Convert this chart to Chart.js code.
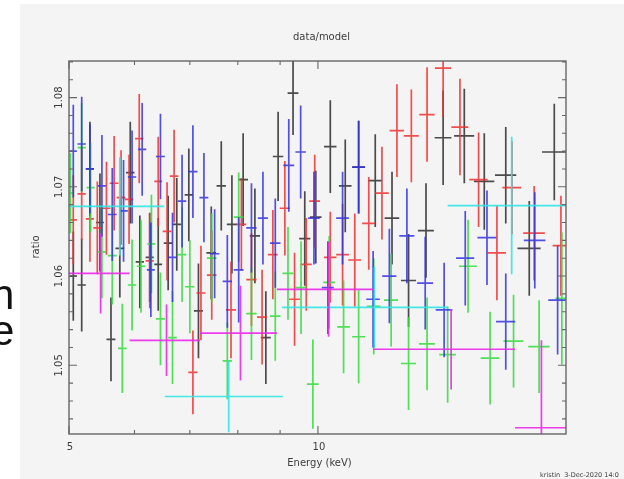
<!DOCTYPE html>
<html>
<head>
<meta charset="utf-8">
<script src="https://cdn.jsdelivr.net/npm/chart.js@4.4.1/dist/chart.umd.min.js"></script>
<style>
  html, body { margin: 0; padding: 0; background: #ffffff; }
  #wrap { position: relative; width: 624px; height: 479px; overflow: hidden; }
  canvas { position: absolute; left: 0; top: 0; }
  .slide { position: absolute; font-family: "Liberation Sans", Arial, sans-serif; font-size: 42px; color: #111; line-height: 1; z-index: 2; }
</style>
</head>
<body>
<div id="wrap">
  <canvas id="c" width="624" height="479"></canvas>
  <div class="slide" style="left:-9px; top:274px;">n</div>
  <div class="slide" style="left:-9px; top:310px;">e</div>
</div>
<script>
// ---------- data ----------
// Energy bin centres (keV), half-widths (keV), data/model ratio, 1-sigma error
const blackEnergy = [5.06,5.18,5.30,5.45,5.62,5.76,5.93,6.09,6.26,6.41,6.59,6.75,6.98,7.17,7.43,7.64,7.87,8.12,8.39,8.65,8.95,9.33,9.64,9.94,10.35,10.79,11.20,11.73,12.29,12.87,13.51,14.17,15.03,15.89,16.87,18.01,19.31];
const blackHalfWidth = [0.05,0.06,0.06,0.06,0.07,0.07,0.07,0.07,0.07,0.07,0.08,0.08,0.08,0.09,0.10,0.10,0.11,0.11,0.12,0.12,0.13,0.14,0.15,0.16,0.18,0.19,0.20,0.22,0.25,0.27,0.30,0.33,0.42,0.45,0.50,0.58,0.65];
const blackRatio = [1.0600,1.0590,1.0720,1.0660,1.0529,1.0631,1.0716,1.0616,1.0621,1.0613,1.0637,1.0658,1.0691,1.0561,1.0626,1.0701,1.0658,1.0708,1.0645,1.0531,1.0734,1.0805,1.0642,1.0666,1.0745,1.0701,1.0722,1.0707,1.0665,1.0595,1.0651,1.0755,1.0757,1.0706,1.0713,1.0631,1.0739];
const blackError = [0.0050,0.0052,0.0053,0.0055,0.0047,0.0055,0.0057,0.0052,0.0050,0.0052,0.0053,0.0052,0.0052,0.0053,0.0052,0.0050,0.0055,0.0052,0.0053,0.0052,0.0050,0.0047,0.0053,0.0052,0.0052,0.0052,0.0052,0.0052,0.0052,0.0052,0.0053,0.0053,0.0053,0.0054,0.0054,0.0053,0.0054];

const redEnergy = [5.06,5.18,5.30,5.41,5.55,5.67,5.78,5.91,6.08,6.26,6.41,6.57,6.70,7.06,7.22,7.44,7.85,8.08,8.31,8.56,8.82,9.12,9.37,9.68,9.91,10.35,10.71,11.08,11.52,11.95,12.46,12.97,13.55,14.17,14.85,15.64,16.46,17.16,18.26,19.67];
const redHalfWidth = [0.05,0.06,0.06,0.06,0.06,0.07,0.07,0.07,0.07,0.07,0.07,0.08,0.08,0.09,0.09,0.10,0.11,0.11,0.12,0.12,0.12,0.13,0.14,0.15,0.15,0.18,0.19,0.20,0.21,0.23,0.25,0.27,0.29,0.32,0.35,0.40,0.42,0.45,0.55,0.45];
const redRatio = [1.0663,1.0692,1.0664,1.0654,1.0676,1.0704,1.0688,1.0686,1.0754,1.0617,1.0706,1.0650,1.0712,1.0492,1.0581,1.0601,1.0562,1.0658,1.0596,1.0554,1.0624,1.0676,1.0574,1.0613,1.0684,1.0621,1.0624,1.0618,1.0659,1.0693,1.0763,1.0757,1.0781,1.0833,1.0767,1.0708,1.0626,1.0699,1.0648,1.0634];
const redError = [0.0050,0.0052,0.0048,0.0052,0.0052,0.0053,0.0053,0.0050,0.0050,0.0053,0.0050,0.0055,0.0052,0.0047,0.0053,0.0050,0.0054,0.0052,0.0052,0.0053,0.0050,0.0053,0.0052,0.0052,0.0052,0.0051,0.0057,0.0052,0.0052,0.0052,0.0052,0.0052,0.0053,0.0055,0.0054,0.0053,0.0053,0.0052,0.0053,0.0056];

const greenEnergy = [5.02,5.18,5.31,5.48,5.64,5.80,5.96,6.11,6.29,6.45,6.67,6.85,7.00,7.44,7.77,8.02,8.31,8.88,9.20,9.54,9.86,10.32,10.74,11.20,11.68,12.26,12.87,13.55,14.35,15.19,16.15,17.24,18.51,19.72];
const greenHalfWidth = [0.05,0.06,0.06,0.06,0.07,0.07,0.07,0.07,0.07,0.08,0.08,0.08,0.09,0.10,0.10,0.11,0.12,0.13,0.14,0.15,0.16,0.17,0.19,0.20,0.22,0.24,0.27,0.30,0.33,0.38,0.42,0.48,0.55,0.35];
const greenRatio = [1.0693,1.0744,1.0699,1.0627,1.0623,1.0519,1.0590,1.0611,1.0636,1.0552,1.0531,1.0624,1.0588,1.0620,1.0505,1.0666,1.0558,1.0555,1.0603,1.0587,1.0479,1.0593,1.0543,1.0532,1.0566,1.0573,1.0502,1.0524,1.0512,1.0611,1.0508,1.0527,1.0521,1.0575];
const greenError = [0.0045,0.0050,0.0050,0.0052,0.0055,0.0050,0.0051,0.0052,0.0055,0.0052,0.0052,0.0053,0.0052,0.0050,0.0043,0.0050,0.0052,0.0050,0.0052,0.0052,0.0050,0.0052,0.0052,0.0052,0.0054,0.0052,0.0052,0.0052,0.0054,0.0052,0.0052,0.0052,0.0052,0.0074];

const blueEnergy = [5.06,5.18,5.30,5.48,5.64,5.82,5.96,6.13,6.28,6.45,6.67,6.85,7.06,7.28,7.50,7.77,8.02,8.31,8.58,8.88,9.22,9.53,9.89,10.28,10.71,11.20,11.66,12.20,12.81,13.48,14.21,15.07,16.01,16.87,18.29,19.49];
const blueHalfWidth = [0.05,0.06,0.06,0.06,0.07,0.07,0.07,0.07,0.07,0.08,0.08,0.08,0.09,0.09,0.10,0.10,0.11,0.12,0.12,0.13,0.14,0.14,0.16,0.17,0.19,0.20,0.22,0.24,0.27,0.30,0.33,0.38,0.42,0.45,0.55,0.50];
const blueRatio = [1.0740,1.0748,1.0720,1.0701,1.0669,1.0673,1.0711,1.0742,1.0607,1.0734,1.0621,1.0684,1.0717,1.0688,1.0625,1.0594,1.0607,1.0654,1.0665,1.0637,1.0724,1.0739,1.0665,1.0587,1.0665,1.0722,1.0574,1.0600,1.0645,1.0592,1.0562,1.0620,1.0643,1.0549,1.0640,1.0573];
const blueError = [0.0052,0.0053,0.0050,0.0057,0.0052,0.0057,0.0052,0.0052,0.0053,0.0048,0.0050,0.0052,0.0052,0.0050,0.0050,0.0052,0.0059,0.0050,0.0052,0.0050,0.0052,0.0052,0.0052,0.0052,0.0052,0.0052,0.0054,0.0053,0.0053,0.0052,0.0053,0.0053,0.0053,0.0054,0.0054,0.0061];

const cyanEnergy = [5.76,7.80,11.70,17.15];
const cyanHalfWidth = [0.76,1.27,2.65,2.80];
const cyanRatio = [1.0678,1.0465,1.0565,1.0679];
const cyanError = [0.0055,0.0040,0.0045,0.0077];

const magentaEnergy = [5.46,6.56,8.06,10.30,14.49,18.63];
const magentaHalfWidth = [0.46,0.64,0.86,1.38,2.82,1.32];
const magentaRatio = [1.0603,1.0528,1.0536,1.0585,1.0518,1.0430];
const magentaError = [0.0045,0.0040,0.0053,0.0053,0.0045,0.0098];

// axes
const xMin = 5, xMax = 19.95;
const yMin = 1.0423, yMax = 1.0841;
const xMajorTicks = [5, 10];
const xTickLabels = ['5', '10'];
const xMinorTicks = [6, 7, 8, 9];
const yMajorTicks = [1.05, 1.06, 1.07, 1.08];
const yTickLabels = ['1.05', '1.06', '1.07', '1.08'];
const yMinorTicks = [1.044,1.046,1.048,1.052,1.054,1.056,1.058,1.062,1.064,1.066,1.068,1.072,1.074,1.076,1.078,1.082,1.084];

const titleText = 'data/model';
const xTitle = 'Energy (keV)';
const yTitle = 'ratio';
const stampText = 'kristin  3-Dec-2020 14:0';

// ---------- chart ----------
function makeSet(label, color, E, dE, R, err) {
  return {
    label: label,
    data: E.map((e, i) => ({ x: e, y: R[i] })),
    xErr: dE, yErr: err,
    borderColor: color, backgroundColor: color,
    pointRadius: 0, showLine: false
  };
}

const W = 624, H = 479;
const FONT = '"DejaVu Sans", sans-serif';

const framePlugin = {
  id: 'xspecFrame',
  beforeDraw(chart) {
    const ctx = chart.ctx;
    ctx.save();
    ctx.fillStyle = '#ffffff';
    ctx.fillRect(0, 0, W, H);
    ctx.fillStyle = '#f4f4f4';
    ctx.fillRect(20, 4, W - 20, H - 4);
    ctx.restore();
  },
  afterDatasetsDraw(chart) {
    const ctx = chart.ctx, a = chart.chartArea;
    const xs = chart.scales.x, ys = chart.scales.y;
    ctx.save();
    ctx.beginPath();
    ctx.rect(a.left, a.top, a.right - a.left, a.bottom - a.top);
    ctx.clip();
    ctx.lineWidth = 1.7;
    ctx.lineCap = 'butt';
    chart.data.datasets.forEach(ds => {
      ctx.strokeStyle = ds.borderColor;
      ds.data.forEach((p, i) => {
        const dx = ds.xErr[i], dy = ds.yErr[i];
        const x0 = xs.getPixelForValue(p.x - dx);
        const x1 = xs.getPixelForValue(p.x + dx);
        const xc = xs.getPixelForValue(p.x);
        const yc = ys.getPixelForValue(p.y);
        const y0 = ys.getPixelForValue(p.y - dy);
        const y1 = ys.getPixelForValue(p.y + dy);
        ctx.beginPath();
        ctx.moveTo(x0, yc); ctx.lineTo(x1, yc);
        ctx.moveTo(xc, y0); ctx.lineTo(xc, y1);
        ctx.stroke();
      });
    });
    ctx.restore();
  },
  afterDraw(chart) {
    const ctx = chart.ctx, a = chart.chartArea;
    const xs = chart.scales.x, ys = chart.scales.y;
    ctx.save();
    ctx.strokeStyle = '#666666';
    ctx.lineWidth = 1.4;
    ctx.strokeRect(a.left, a.top, a.right - a.left, a.bottom - a.top);
    ctx.lineWidth = 1.1;
    ctx.beginPath();
    const tick = (x0, y0, x1, y1) => { ctx.moveTo(x0, y0); ctx.lineTo(x1, y1); };
    xMajorTicks.forEach(v => { const x = xs.getPixelForValue(v); tick(x, a.bottom, x, a.bottom - 8); tick(x, a.top, x, a.top + 8); });
    xMinorTicks.forEach(v => { const x = xs.getPixelForValue(v); tick(x, a.bottom, x, a.bottom - 4); tick(x, a.top, x, a.top + 4); });
    yMajorTicks.forEach(v => { const y = ys.getPixelForValue(v); tick(a.left, y, a.left + 8, y); tick(a.right, y, a.right - 8, y); });
    yMinorTicks.forEach(v => { const y = ys.getPixelForValue(v); tick(a.left, y, a.left + 4, y); tick(a.right, y, a.right - 4, y); });
    ctx.stroke();

    ctx.fillStyle = '#3c3c3c';
    ctx.font = '10px ' + FONT;
    ctx.textAlign = 'center';
    ctx.textBaseline = 'middle';
    xMajorTicks.forEach((v, i) => ctx.fillText(xTickLabels[i], xs.getPixelForValue(v) + 1, a.bottom + 13));
    yMajorTicks.forEach((v, i) => {
      ctx.save();
      ctx.translate(a.left - 10, ys.getPixelForValue(v));
      ctx.rotate(-Math.PI / 2);
      ctx.fillText(yTickLabels[i], 0, 0);
      ctx.restore();
    });
    ctx.fillText(titleText, (a.left + a.right) / 2 + 4, 37);
    ctx.fillText(xTitle, (a.left + a.right) / 2 + 2, a.bottom + 29);
    ctx.save();
    ctx.translate(36, 247);
    ctx.rotate(-Math.PI / 2);
    ctx.fillText(yTitle, 0, 0);
    ctx.restore();
    ctx.font = '6.5px ' + FONT;
    ctx.textAlign = 'left';
    ctx.fillText(stampText, 540, 475);
    ctx.restore();
  }
};

new Chart(document.getElementById('c'), {
  type: 'scatter',
  data: {
    datasets: [
      makeSet('black', 'rgba(45,45,45,0.85)', blackEnergy, blackHalfWidth, blackRatio, blackError),
      makeSet('red', 'rgba(238,48,48,0.85)', redEnergy, redHalfWidth, redRatio, redError),
      makeSet('green', 'rgba(50,220,60,0.85)', greenEnergy, greenHalfWidth, greenRatio, greenError),
      makeSet('blue', 'rgba(50,50,225,0.85)', blueEnergy, blueHalfWidth, blueRatio, blueError),
      makeSet('cyan', 'rgba(50,228,228,0.9)', cyanEnergy, cyanHalfWidth, cyanRatio, cyanError),
      makeSet('magenta', 'rgba(235,40,235,0.9)', magentaEnergy, magentaHalfWidth, magentaRatio, magentaError)
    ]
  },
  options: {
    responsive: false,
    animation: false,
    devicePixelRatio: 1,
    layout: { padding: { left: 69, right: 58, top: 61, bottom: 45 } },
    plugins: { legend: { display: false }, title: { display: false }, tooltip: { enabled: false } },
    events: [],
    scales: {
      x: { type: 'logarithmic', min: xMin, max: xMax, display: false },
      y: { type: 'linear', min: yMin, max: yMax, display: false }
    }
  },
  plugins: [framePlugin]
});
</script>
</body>
</html>
